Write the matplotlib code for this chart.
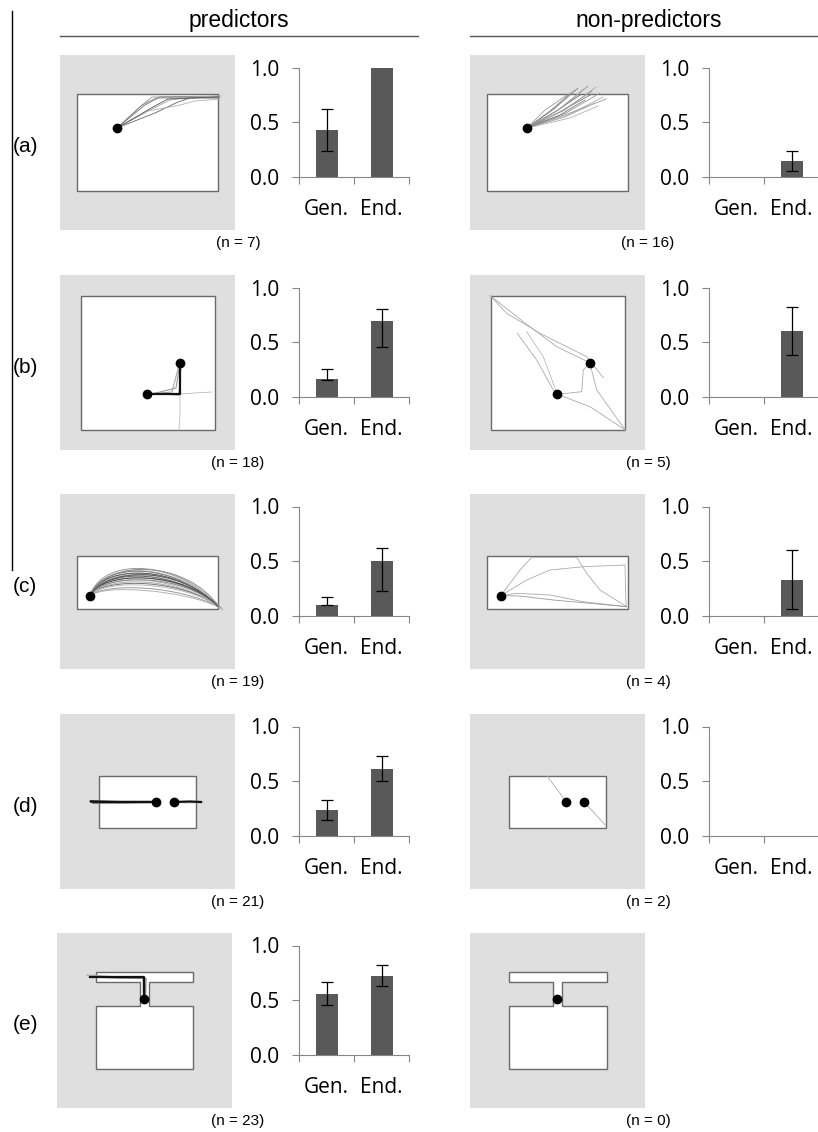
import numpy as np
import matplotlib.pyplot as plt
from matplotlib.path import Path
from matplotlib.patches import PathPatch, Polygon
from matplotlib.lines import Line2D

# ---- data -------------------------------------------------------------
row_labels = ['(a)', '(b)', '(c)', '(d)', '(e)']
categories = ['Gen.', 'End.']
n_pred = [7, 18, 19, 21, 23]
n_non = [16, 5, 4, 2, 0]

# proportions with error bar bounds (nan = no bar)
nan = np.nan
pred_gen = [0.43, 0.16, 0.10, 0.24, 0.56]
pred_gen_lo = [0.24, 0.155, 0.095, 0.14, 0.46]
pred_gen_hi = [0.62, 0.255, 0.17, 0.33, 0.67]
pred_end = [1.0, 0.69, 0.50, 0.61, 0.72]
pred_end_lo = [1.0, 0.46, 0.23, 0.50, 0.63]
pred_end_hi = [1.0, 0.80, 0.62, 0.73, 0.82]
non_gen = [nan, nan, nan, nan, nan]
non_gen_lo = [nan, nan, nan, nan, nan]
non_gen_hi = [nan, nan, nan, nan, nan]
non_end = [0.14, 0.60, 0.33, nan, nan]
non_end_lo = [0.05, 0.38, 0.06, nan, nan]
non_end_hi = [0.24, 0.82, 0.60, nan, nan]

# arena outlines (panel units, y down)
arena_a = [(17, 39), (158, 39), (158, 136), (17, 136)]
arena_b = [(20.5, 20.7), (155.3, 20.7), (155.3, 155), (20.5, 155)]
arena_c = [(17.3, 61.7), (158.3, 61.7), (158.3, 115), (17.3, 115)]
arena_d = [(39.3, 61.7), (136.3, 61.7), (136.3, 114.3), (39.3, 114.3)]
arena_e = [(39.3, 39.2), (136.5, 39.2), (136.5, 48.5), (92.2, 48.5), (92.2, 72.5),
           (136.5, 72.5), (136.5, 136.3), (39.3, 136.3), (39.3, 72.5), (83.2, 72.5),
           (83.2, 48.5), (39.3, 48.5)]
arenas = [arena_a, arena_b, arena_c, arena_d, arena_e]

dots_pred = [[(57, 73)], [(87.3, 119.3), (120, 87.7)], [(30, 101.7)],
             [(96.3, 88), (113.7, 88)], [(87.3, 66)]]
dots_non = [[(57, 73)], [(87.3, 119.3), (119.7, 87.7)], [(30.7, 101.7)],
            [(96.3, 88), (114, 88)], [(87.3, 65.7)]]

# trajectories: (points, colour, width)
traj_a_pred = [
    ([(57, 73), (80, 52), (92, 42), (160, 41)], '#999999', 0.6),
    ([(57, 73), (85, 50), (100, 42), (158, 42)], '#777777', 0.6),
    ([(57, 73), (90, 55), (110, 45), (135, 42), (161, 41)], '#aaaaaa', 0.6),
    ([(57, 73), (95, 58), (118, 47), (130, 43), (158, 43)], '#666666', 0.6),
    ([(57, 73), (88, 56), (120, 50), (135, 46), (160, 44)], '#b0b0b0', 0.6),
    ([(57, 73), (82, 50), (96, 43), (125, 43), (157, 42)], '#888888', 0.6),
    ([(57, 73), (93, 52), (108, 44), (159, 42)], '#555555', 0.6),
]
traj_a_non = [
    ([(57, 73), (75, 55), (97, 40)], '#999999', 0.6),
    ([(57, 73), (80, 56), (101, 38)], '#777777', 0.6),
    ([(57, 73), (82, 55), (105, 35)], '#aaaaaa', 0.6),
    ([(57, 73), (84, 54), (108, 33)], '#888888', 0.6),
    ([(57, 73), (85, 57), (110, 40)], '#666666', 0.6),
    ([(57, 73), (88, 55), (114, 34)], '#aaaaaa', 0.6),
    ([(57, 73), (90, 54), (118, 31)], '#999999', 0.6),
    ([(57, 73), (88, 58), (120, 40)], '#777777', 0.6),
    ([(57, 73), (92, 56), (122, 36)], '#888888', 0.6),
    ([(57, 73), (95, 55), (126, 32)], '#aaaaaa', 0.6),
    ([(57, 73), (96, 58), (130, 38)], '#999999', 0.6),
    ([(57, 73), (98, 60), (133, 42)], '#b0b0b0', 0.6),
    ([(57, 73), (100, 58), (136, 44)], '#999999', 0.6),
    ([(57, 73), (95, 62), (125, 48)], '#aaaaaa', 0.6),
    ([(57, 73), (100, 63), (128, 51)], '#b0b0b0', 0.6),
    ([(57, 73), (90, 60), (115, 45)], '#777777', 0.6),
]
traj_b_pred = [
    ([(120, 119), (135, 118), (152, 117)], '#bbbbbb', 0.6),
    ([(120, 120), (120, 138), (119, 155)], '#bbbbbb', 0.6),
    ([(88, 119), (112, 117), (119, 90)], '#aaaaaa', 0.8),
    ([(88, 120), (116, 113), (120, 88)], '#999999', 0.8),
    ([(87, 118), (119, 120), (121, 89)], '#777777', 0.8),
    ([(87.3, 119.3), (120, 119.3), (120, 87.7)], '#111111', 1.6),
]
traj_b_non = [
    ([(20.3, 20.7), (53.3, 46.7), (86.7, 71.7), (119.7, 87.7)], '#aaaaaa', 0.6),
    ([(20.3, 20.7), (36.7, 38.3), (70, 58.3), (116.7, 81.7), (133.3, 102.7)], '#aaaaaa', 0.6),
    ([(47.3, 58.3), (66.7, 85), (83.3, 115), (87.3, 119.3)], '#aaaaaa', 0.6),
    ([(56.7, 56.7), (73.3, 81.7), (87.3, 119.3)], '#bbbbbb', 0.6),
    ([(87.3, 119.3), (111.7, 116.7), (113.3, 95), (119.7, 87.7)], '#aaaaaa', 0.6),
    ([(119.7, 87.7), (126.7, 115), (155.3, 155)], '#aaaaaa', 0.6),
    ([(87.3, 119.3), (120, 131.7), (155.3, 155)], '#aaaaaa', 0.6),
]
traj_c_non = [
    ([(30.7, 101.7), (50, 76), (61.7, 63.3), (106.7, 63.3), (116.7, 79.3), (130, 96),
      (156.7, 112.7)], '#aaaaaa', 0.6),
    ([(30.7, 101.7), (56.7, 86), (80, 76), (113.3, 72.7), (155, 71), (156, 112.7)],
     '#aaaaaa', 0.6),
    ([(30.7, 101.7), (46.7, 99.3), (80, 101), (113.3, 107.7), (156.7, 112.7)], '#aaaaaa', 0.6),
    ([(30.7, 101.7), (50, 102), (83.3, 106), (156.7, 112.7)], '#999999', 0.6),
]
traj_d_pred = [
    ([(30, 86.5), (50, 87.5), (96, 88)], '#bbbbbb', 0.8),
    ([(114, 88), (128, 89), (143, 88.5)], '#bbbbbb', 0.8),
    ([(33, 89), (70, 88.5), (96, 88)], '#666666', 1.2),
    ([(31, 87.5), (60, 88), (96.3, 88)], '#111111', 1.8),
    ([(113.7, 88), (130, 87.5), (141, 88)], '#111111', 1.6),
]
traj_d_non = [
    ([(77.3, 62), (96.3, 88)], '#aaaaaa', 0.6),
    ([(114, 88), (136, 111.7)], '#aaaaaa', 0.6),
]
traj_e_pred = [
    ([(40, 44), (30, 42.5)], '#bbbbbb', 0.6),
    ([(86.5, 64), (86, 43.5), (55, 43.5), (30, 42)], '#aaaaaa', 0.8),
    ([(88.5, 64), (89, 45.5), (60, 45), (35, 44)], '#888888', 1.0),
    ([(87.3, 66), (87.3, 44.3), (33, 44.3)], '#111111', 1.6),
]
traj_pred = [traj_a_pred, traj_b_pred, [], traj_d_pred, traj_e_pred]
traj_non = [traj_a_non, traj_b_non, traj_c_non, traj_d_non, []]

# curved paths in row (c), predictors: start, two control points, end
arc_start = (30, 101.7)
arc_ctrl1 = [(44, 60), (46, 62), (45, 65), (47, 66), (44, 68), (46, 70), (45, 70),
             (48, 72), (46, 73), (44, 75), (47, 76), (45, 78), (48, 80), (46, 82),
             (44, 84), (47, 88), (45, 90), (46, 64), (44, 74)]
arc_ctrl2 = [(122, 68), (125, 72), (118, 70), (128, 75), (120, 72), (124, 74), (126, 78),
             (119, 76), (123, 80), (127, 78), (121, 82), (125, 80), (118, 84), (124, 86),
             (126, 88), (120, 92), (122, 96), (127, 66), (119, 70)]
arc_end = [(158, 112.7), (160, 114), (158, 112.7), (162, 115), (158, 112.7), (157, 112),
           (158, 112.7), (161, 114), (158, 112.7), (158, 112.7), (163, 116), (158, 112.7),
           (157, 112), (158, 112.7), (160, 113.5), (158, 112.7), (158, 112.7), (159, 113),
           (158, 112.7)]
arc_colors = ['#999999', '#bbbbbb', '#777777', '#b5b5b5', '#555555', '#a0a0a0', '#bbbbbb',
              '#666666', '#aaaaaa', '#444444', '#b5b5b5', '#888888', '#aaaaaa', '#777777',
              '#bbbbbb', '#999999', '#b5b5b5', '#888888', '#555555']

# ---- layout -----------------------------------------------------------
W, H = 818, 1132
GRAY = '#dfdfdf'
BAR = '#595959'
AXC = '#868686'
row_top = [55, 275, 494, 714, 933]
left_x = [60, 60, 60, 60, 57]
right_x = [470, 470, 470, 470, 470]
TICK_FONT = 'Open Sans'
ARIAL = 'Liberation Sans'

fig = plt.figure(figsize=(W / 100, H / 100), dpi=100)


def px_axes(x, y, w, h):
    return fig.add_axes([x / W, 1 - (y + h) / H, w / W, h / H])


def fig_line(x0, y0, x1, y1, **kw):
    fig.add_artist(Line2D([x0 / W, x1 / W], [1 - y0 / H, 1 - y1 / H], **kw))


def arena_panel(x, y, shape, dots, trajs, arcs=False):
    ax = px_axes(x, y, 175, 175)
    ax.set_facecolor(GRAY)
    ax.set_xlim(0, 175)
    ax.set_ylim(175, 0)
    ax.set_xticks([])
    ax.set_yticks([])
    for s in ax.spines.values():
        s.set_visible(False)
    ax.add_patch(Polygon(shape, closed=True, facecolor='white', edgecolor='#6a6a6a', lw=1))
    if arcs:
        for c1, c2, e, col in zip(arc_ctrl1, arc_ctrl2, arc_end, arc_colors):
            p = Path([arc_start, c1, c2, e], [Path.MOVETO, Path.CURVE4, Path.CURVE4, Path.CURVE4])
            ax.add_patch(PathPatch(p, facecolor='none', edgecolor=col, lw=0.7))
    for pts, col, lw in trajs:
        xs, ys = zip(*pts)
        ax.plot(xs, ys, color=col, lw=lw, solid_joinstyle='round')
    for dx, dy in dots:
        ax.plot(dx, dy, 'o', color='black', ms=6, zorder=5)
    return ax


def bar_panel(x, y, vals, lo, hi):
    ax = px_axes(x, y + 12.5, 110, 109.3)
    for i, v in enumerate(vals):
        if np.isnan(v):
            continue
        ax.bar(i, v, width=0.4, color=BAR, zorder=2)
        if hi[i] > lo[i]:
            ax.errorbar(i, v, yerr=[[v - lo[i]], [hi[i] - v]], color='black',
                        elinewidth=0.9, capsize=4.5, capthick=0.9, zorder=3)
    ax.set_xlim(-0.5, 1.5)
    ax.set_ylim(0, 1)
    ax.set_yticks([0, 0.5, 1.0])
    ax.set_yticklabels(['0.0', '0.5', '1.0'], fontsize=15, family=TICK_FONT)
    ax.set_xticks([-0.5, 0.5, 1.5])
    ax.set_xticklabels([])
    ax.set_xticks([0, 1], minor=True)
    ax.set_xticklabels(categories, minor=True, fontsize=15, family=TICK_FONT)
    ax.tick_params(axis='x', which='minor', length=0, pad=16)
    ax.tick_params(axis='both', which='major', length=5, width=0.8, color=AXC, direction='out')
    ax.tick_params(axis='y', pad=9)
    for s in ['top', 'right']:
        ax.spines[s].set_visible(False)
    for s in ['left', 'bottom']:
        ax.spines[s].set_color(AXC)
        ax.spines[s].set_linewidth(0.8)
    return ax


# headers
fig.text(238.5 / W, 1 - 21 / H, 'predictors', ha='center', va='center', fontsize=16.5, family=ARIAL)
fig.text(649 / W, 1 - 21 / H, 'non-predictors', ha='center', va='center', fontsize=16.5, family=ARIAL)
fig_line(60, 35.5, 418, 35.5, color='#555555', lw=1)
fig_line(470, 35.5, 818, 35.5, color='#555555', lw=1)
fig_line(12, 11, 12, 570, color='black', lw=1)

for r in range(5):
    top = row_top[r]
    fig.text(13 / W, 1 - (top + 92) / H, row_labels[r], ha='left', va='center',
             fontsize=15, family=ARIAL)

    arena_panel(left_x[r], top, arenas[r], dots_pred[r], traj_pred[r], arcs=(r == 2))
    arena_panel(right_x[r], top, arenas[r], dots_non[r], traj_non[r])

    bar_panel(299, top, [pred_gen[r], pred_end[r]],
              [pred_gen_lo[r], pred_end_lo[r]], [pred_gen_hi[r], pred_end_hi[r]])
    if r < 4:
        bar_panel(709, top, [non_gen[r], non_end[r]],
                  [non_gen_lo[r], non_end_lo[r]], [non_gen_hi[r], non_end_hi[r]])

    fig.text(238 / W, 1 - (top + 188) / H, f'(n = {n_pred[r]})', ha='center', va='center',
             fontsize=11, family=ARIAL)
    fig.text(648 / W, 1 - (top + 188) / H, f'(n = {n_non[r]})', ha='center', va='center',
             fontsize=11, family=ARIAL)

fig.savefig('out.png', dpi=100)
